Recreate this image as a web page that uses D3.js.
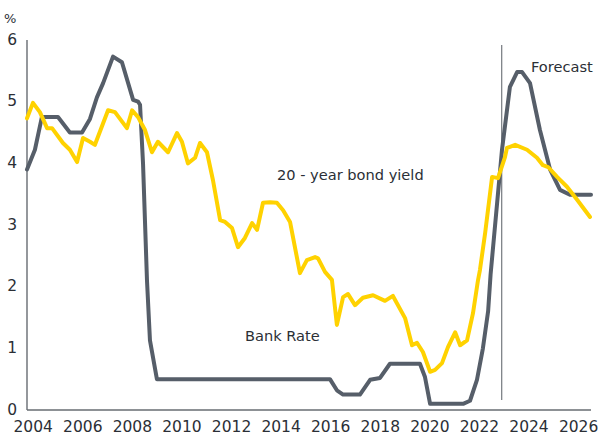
<!DOCTYPE html>
<html>
<head>
  <meta charset="utf-8">
  <script src="https://d3js.org/d3.v7.min.js"></script>
  <style>
    body {
      margin: 0;
      background: #ffffff;
      font-family: "DejaVu Sans", Verdana, sans-serif;
    }
    .tick_label {
      fill: #2b2f36;
      font-size: 15.5px;
    }
    .note {
      fill: #2b2f36;
      font-size: 14.6px;
    }
  </style>
</head>
<body>
  <svg></svg>
  <script>
    // [year, %]
    const bankRate = [
      [2003.75, 3.9], [2004.07, 4.22], [2004.35, 4.75], [2005.0, 4.75],
      [2005.48, 4.5], [2005.97, 4.5], [2006.29, 4.72], [2006.57, 5.07],
      [2006.82, 5.3], [2007.22, 5.73], [2007.58, 5.64], [2008.03, 5.03],
      [2008.23, 5.0], [2008.31, 4.95], [2008.43, 4.0], [2008.59, 2.1],
      [2008.71, 1.13], [2008.99, 0.5], [2015.97, 0.5], [2016.25, 0.32],
      [2016.5, 0.25], [2017.18, 0.25], [2017.59, 0.49], [2017.99, 0.52],
      [2018.39, 0.75], [2019.6, 0.75], [2019.8, 0.54], [2020.01, 0.1],
      [2021.34, 0.1], [2021.62, 0.15], [2021.9, 0.49], [2022.14, 1.0],
      [2022.35, 1.6], [2022.45, 2.2], [2022.91, 4.22], [2023.23, 5.24],
      [2023.52, 5.48], [2023.72, 5.48], [2024.04, 5.3], [2024.44, 4.54],
      [2024.85, 3.9], [2025.25, 3.57], [2025.65, 3.49], [2026.5, 3.49]
    ]

    const bondYield = [
      [2003.75, 4.73], [2003.99, 4.98], [2004.27, 4.83], [2004.56, 4.57],
      [2004.76, 4.57], [2005.2, 4.33], [2005.48, 4.22], [2005.77, 4.02],
      [2006.01, 4.41], [2006.29, 4.35], [2006.49, 4.3], [2007.02, 4.86],
      [2007.3, 4.83], [2007.78, 4.57], [2007.99, 4.86], [2008.23, 4.75],
      [2008.51, 4.54], [2008.79, 4.18], [2009.03, 4.35], [2009.44, 4.18],
      [2009.8, 4.49], [2010.0, 4.35], [2010.24, 4.0], [2010.53, 4.09],
      [2010.73, 4.33], [2011.01, 4.18], [2011.25, 3.73], [2011.54, 3.08],
      [2011.74, 3.05], [2012.02, 2.95], [2012.26, 2.64], [2012.54, 2.79],
      [2012.83, 3.03], [2013.03, 2.92], [2013.27, 3.36], [2013.55, 3.37],
      [2013.83, 3.36], [2014.08, 3.24], [2014.36, 3.05], [2014.76, 2.22],
      [2015.04, 2.43], [2015.37, 2.48], [2015.49, 2.46], [2015.77, 2.24],
      [2016.05, 2.11], [2016.25, 1.38], [2016.5, 1.83], [2016.7, 1.88],
      [2016.98, 1.7], [2017.3, 1.82], [2017.71, 1.86], [2018.19, 1.77],
      [2018.51, 1.85], [2019.0, 1.49], [2019.28, 1.05], [2019.48, 1.09],
      [2019.72, 0.94], [2020.01, 0.62], [2020.21, 0.65], [2020.49, 0.76],
      [2020.73, 1.02], [2021.02, 1.26], [2021.22, 1.05], [2021.5, 1.13],
      [2021.74, 1.57], [2021.94, 2.1], [2022.02, 2.27], [2022.23, 2.87],
      [2022.51, 3.78], [2022.75, 3.76], [2023.03, 4.1], [2023.11, 4.25],
      [2023.44, 4.3], [2023.92, 4.22], [2024.32, 4.09], [2024.56, 3.97],
      [2024.77, 3.94], [2025.13, 3.78], [2025.53, 3.62], [2025.94, 3.41],
      [2026.46, 3.13]
    ]

    const xTicks = [2004, 2006, 2008, 2010, 2012, 2014, 2016, 2018, 2020, 2022, 2024, 2026]
    const yTicks = [0, 1, 2, 3, 4, 5, 6]
    const forecastStart = 2022.9

    const width = 600
    const height = 437

    const svg = d3.select("svg")
      .attr("width", width)
      .attr("height", height)

    const xScale = d3.scaleLinear()
      .domain([2003.75, 2026.5])
      .range([27, 591])

    const yScale = d3.scaleLinear()
      .domain([0, 6])
      .range([410, 40])

    // axes (lines only, labels drawn separately)
    svg.append("line")
      .attr("x1", xScale(2003.75)).attr("x2", xScale(2003.75))
      .attr("y1", yScale(6)).attr("y2", yScale(0))
      .attr("stroke", "#676c72").attr("stroke-width", 1.4)

    svg.append("line")
      .attr("x1", xScale(2003.75)).attr("x2", xScale(2026.5))
      .attr("y1", yScale(0)).attr("y2", yScale(0))
      .attr("stroke", "#676c72").attr("stroke-width", 1.4)

    svg.selectAll(".y_label")
      .data(yTicks)
      .enter()
      .append("text")
      .attr("class", "tick_label")
      .attr("x", 17)
      .attr("y", d => yScale(d))
      .attr("text-anchor", "end")
      .attr("dominant-baseline", "middle")
      .text(d => d)

    svg.selectAll(".x_label")
      .data(xTicks)
      .enter()
      .append("text")
      .attr("class", "tick_label")
      .attr("x", d => xScale(d))
      .attr("y", 432)
      .attr("text-anchor", "middle")
      .text(d => d)

    svg.append("text")
      .attr("class", "note")
      .attr("x", 4)
      .attr("y", 23)
      .style("font-size", "13px")
      .text("%")

    // forecast marker
    svg.append("line")
      .attr("x1", xScale(forecastStart)).attr("x2", xScale(forecastStart))
      .attr("y1", 45).attr("y2", 400)
      .attr("stroke", "#595e64").attr("stroke-width", 1)

    const line = d3.line()
      .x(d => xScale(d[0]))
      .y(d => yScale(d[1]))

    svg.append("path")
      .datum(bankRate)
      .attr("d", line)
      .attr("fill", "none")
      .attr("stroke", "#565e69")
      .attr("stroke-width", 4)
      .attr("stroke-linejoin", "round")
      .attr("stroke-linecap", "round")

    svg.append("path")
      .datum(bondYield)
      .attr("d", line)
      .attr("fill", "none")
      .attr("stroke", "#ffd200")
      .attr("stroke-width", 4)
      .attr("stroke-linejoin", "round")
      .attr("stroke-linecap", "round")

    svg.append("text").attr("class", "note")
      .attr("x", 531).attr("y", 72)
      .text("Forecast")

    svg.append("text").attr("class", "note")
      .attr("x", 277).attr("y", 180)
      .text("20 - year bond yield")

    svg.append("text").attr("class", "note")
      .attr("x", 245).attr("y", 341)
      .text("Bank Rate")
  </script>
</body>
</html>
